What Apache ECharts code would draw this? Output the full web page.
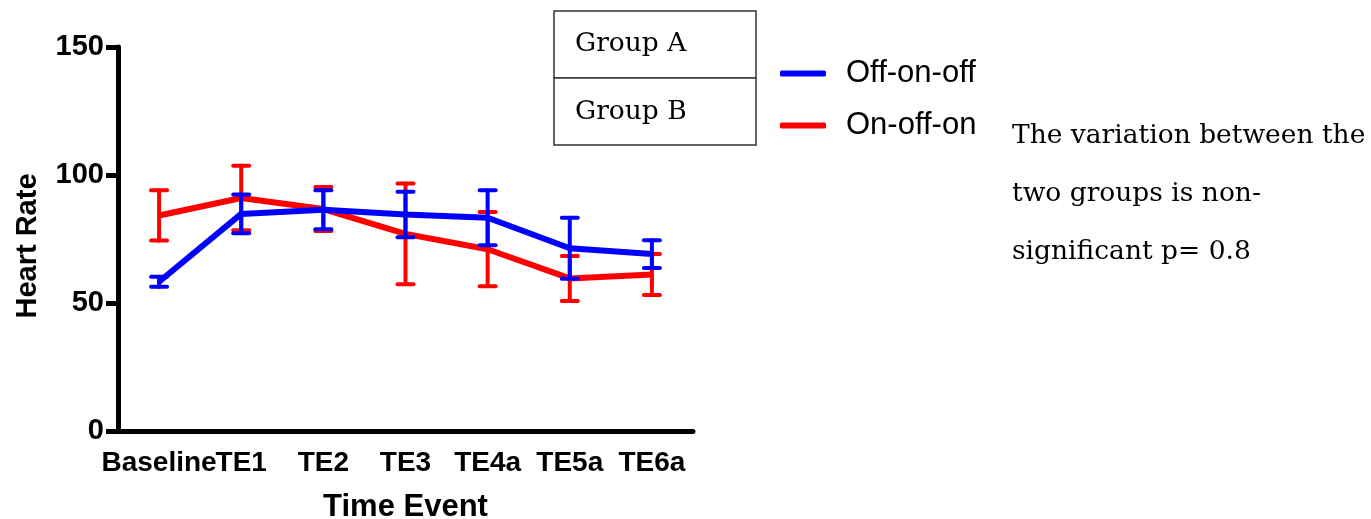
<!DOCTYPE html>
<html>
<head>
<meta charset="utf-8">
<script src="https://cdn.jsdelivr.net/npm/echarts@6/dist/echarts.min.js"></script>
<style>
  html, body { margin: 0; padding: 0; background: #fff; }
  #chart { width: 1371px; height: 519px; }
</style>
</head>
<body>
<div id="chart"></div>
<script>
// Time events on the x axis
const categories = ['Baseline', 'TE1', 'TE2', 'TE3', 'TE4a', 'TE5a', 'TE6a'];

// Mean heart rate and error (half-length of bar) per group
const offOnOffMean = [58.3, 84.8, 86.4, 84.6, 83.3, 71.4, 69.1];
const offOnOffErr  = [2.0, 7.6, 7.6, 8.9, 10.7, 11.9, 5.4];
const onOffOnMean  = [84.2, 91.0, 86.7, 77.0, 71.0, 59.6, 61.1];
const onOffOnErr   = [9.8, 12.6, 8.6, 19.7, 14.5, 8.8, 8.0];

const yTicks = [0, 50, 100, 150];

const noteLines = ['The variation between the', 'two groups is non-', 'significant p= 0.8'];

const BLUE = '#0000ff';
const RED = '#ff0000';

function errorData(mean, err) {
  return mean.map((m, i) => [i, m - err[i], m + err[i]]);
}

function errorBarSeries(name, mean, err, color, z) {
  return {
    type: 'custom',
    name: name,
    z: z,
    silent: true,
    itemStyle: { color: color },
    data: errorData(mean, err),
    encode: { x: 0, y: [1, 2] },
    renderItem: function (params, api) {
      const lo = api.coord([api.value(0), api.value(1)]);
      const hi = api.coord([api.value(0), api.value(2)]);
      const half = 8;
      const style = { stroke: color, lineWidth: 4, lineCap: 'round' };
      return {
        type: 'group',
        children: [
          { type: 'line', shape: { x1: lo[0], y1: lo[1], x2: hi[0], y2: hi[1] }, style: style },
          { type: 'line', shape: { x1: hi[0] - half, y1: hi[1], x2: hi[0] + half, y2: hi[1] }, style: style },
          { type: 'line', shape: { x1: lo[0] - half, y1: lo[1], x2: lo[0] + half, y2: lo[1] }, style: style }
        ]
      };
    }
  };
}

const chart = echarts.init(document.getElementById('chart'), null, { renderer: 'canvas' });

const axisFont = { fontFamily: '"Liberation Sans", Arial, sans-serif', fontWeight: 'bold', color: '#000' };
const serifFont = '"DejaVu Serif", serif';

const noteGraphics = noteLines.map((line, i) => ({
  type: 'text',
  x: 1012,
  y: 136 + i * 58,
  style: { text: line, font: '26.5px ' + serifFont, fill: '#000', verticalAlign: 'middle', align: 'left' }
}));

chart.setOption({
  animation: false,
  backgroundColor: '#fff',
  grid: { left: 118, top: 47, width: 575, height: 384, containLabel: false, outerBoundsMode: 'none' },
  legend: {
    orient: 'vertical',
    left: 775,
    top: 53,
    itemWidth: 46,
    itemHeight: 6,
    itemGap: 21,
    icon: 'roundRect',
    data: [
      { name: 'Off-on-off', itemStyle: { color: BLUE } },
      { name: 'On-off-on', itemStyle: { color: RED } }
    ],
    textStyle: { fontFamily: '"Liberation Sans", Arial, sans-serif', fontSize: 31, color: '#000', padding: [0, 0, 0, 15] }
  },
  xAxis: {
    type: 'category',
    data: categories,
    boundaryGap: true,
    name: 'Time Event',
    nameLocation: 'middle',
    nameGap: 61,
    nameTextStyle: Object.assign({ fontSize: 31 }, axisFont),
    axisLine: { lineStyle: { color: '#000', width: 5 } },
    axisTick: { alignWithLabel: true, length: 14, lineStyle: { color: '#000', width: 5 } },
    axisLabel: Object.assign({ fontSize: 28, margin: 18, interval: 0 }, axisFont),
    splitLine: { show: false }
  },
  yAxis: {
    type: 'value',
    min: yTicks[0],
    max: yTicks[yTicks.length - 1],
    interval: yTicks[1] - yTicks[0],
    name: 'Heart Rate',
    nameLocation: 'middle',
    nameGap: 76,
    nameTextStyle: Object.assign({ fontSize: 29, padding: [0, 14, 0, 0] }, axisFont),
    axisLine: { show: true, lineStyle: { color: '#000', width: 5 } },
    axisTick: { show: true, length: 12, lineStyle: { color: '#000', width: 5 } },
    axisLabel: Object.assign({ fontSize: 29, margin: 14 }, axisFont),
    splitLine: { show: false }
  },
  series: [
    errorBarSeries('On-off-on', onOffOnMean, onOffOnErr, RED, 2),
    {
      name: 'On-off-on',
      type: 'line',
      data: onOffOnMean,
      symbol: 'none',
      z: 3,
      lineStyle: { color: RED, width: 6 },
      itemStyle: { color: RED }
    },
    errorBarSeries('Off-on-off', offOnOffMean, offOnOffErr, BLUE, 4),
    {
      name: 'Off-on-off',
      type: 'line',
      data: offOnOffMean,
      symbol: 'none',
      z: 5,
      lineStyle: { color: BLUE, width: 6 },
      itemStyle: { color: BLUE }
    }
  ],
  graphic: [
    { type: 'rect', shape: { x: 554, y: 11, width: 202, height: 67 }, style: { fill: '#fff', stroke: '#333', lineWidth: 1.5 } },
    { type: 'rect', shape: { x: 554, y: 78, width: 202, height: 67 }, style: { fill: '#fff', stroke: '#333', lineWidth: 1.5 } },
    { type: 'text', x: 575, y: 44, style: { text: 'Group A', font: '26.5px ' + serifFont, fill: '#000', verticalAlign: 'middle' } },
    { type: 'text', x: 575, y: 112, style: { text: 'Group B', font: '26.5px ' + serifFont, fill: '#000', verticalAlign: 'middle' } }
  ].concat(noteGraphics)
});
</script>
</body>
</html>
